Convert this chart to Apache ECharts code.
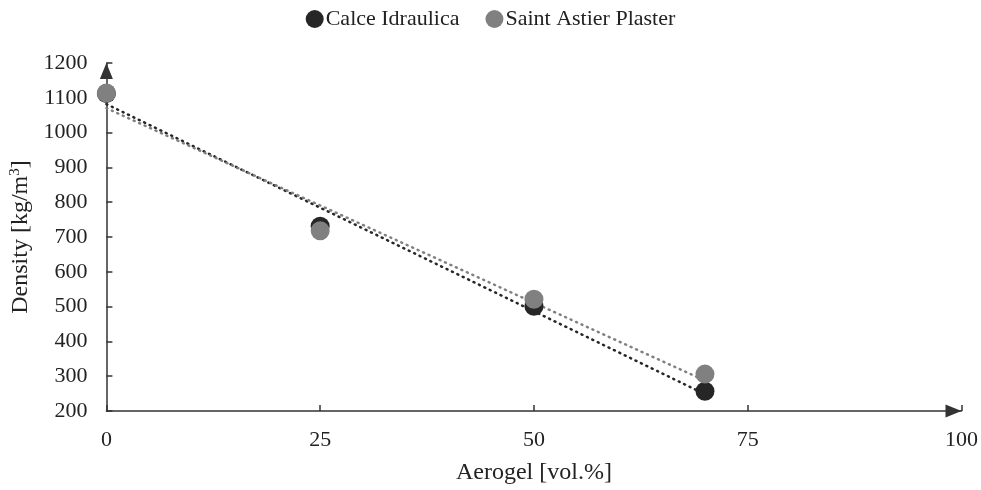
<!DOCTYPE html>
<html>
<head>
<meta charset="utf-8">
<script src="https://cdn.jsdelivr.net/npm/echarts@6/dist/echarts.min.js"></script>
<style>
  html, body { margin: 0; padding: 0; background: #fff; }
  #chart { width: 981px; height: 490px; }
</style>
</head>
<body>
<div id="chart"></div>
<script>
// Aerogel content (vol.%) and measured densities (kg/m3)
const aerogel = [0, 25, 50, 70];
const calceIdraulica = [1112, 731, 501, 257];
const saintAstier = [1114, 718, 521, 306];
const xTicks = [0, 25, 50, 75, 100];
const yTicks = [200, 300, 400, 500, 600, 700, 800, 900, 1000, 1100, 1200];

const DARK = '#262626';
const GREY = '#808080';
const TEXT = '#222222';
const AXIS = '#333333';
const FONT = '"Liberation Serif", "Times New Roman", serif';

// Least-squares linear trendline over the measured points
function trend(xs, ys) {
  const n = xs.length;
  const mx = xs.reduce((a, b) => a + b, 0) / n;
  const my = ys.reduce((a, b) => a + b, 0) / n;
  let sxy = 0, sxx = 0;
  for (let i = 0; i < n; i++) {
    sxy += (xs[i] - mx) * (ys[i] - my);
    sxx += (xs[i] - mx) * (xs[i] - mx);
  }
  const k = sxy / sxx;
  const b = my - k * mx;
  const x0 = xs[0], x1 = xs[n - 1];
  return [[x0, b + k * x0], [x1, b + k * x1]];
}

const pts = (ys) => aerogel.map((x, i) => [x, ys[i]]);

const chart = echarts.init(document.getElementById('chart'), null, { renderer: 'canvas' });

// Axis line ending in a solid triangular arrowhead whose tip sits on the axis end
const axisLine = {
  show: true,
  symbol: ['none', 'triangle'],
  symbolSize: [13, 16],
  symbolOffset: [0, -8],
  lineStyle: { color: AXIS, width: 1.5 }
};
const axisTick = { show: true, inside: true, length: 6, lineStyle: { color: AXIS, width: 1.5 } };

chart.setOption({
  animation: false,
  textStyle: { fontFamily: FONT },
  legend: {
    top: 3,
    left: 'center',
    itemGap: 26,
    itemWidth: 18,
    itemHeight: 18,
    data: [
      { name: 'Calce Idraulica', icon: 'circle' },
      { name: 'Saint Astier Plaster', icon: 'circle' }
    ],
    textStyle: { fontFamily: FONT, fontSize: 22, color: TEXT, padding: [0, 0, 0, -3] }
  },
  grid: { left: 106, right: 19, top: 63, bottom: 78, containLabel: false },
  xAxis: {
    type: 'value',
    min: xTicks[0],
    max: xTicks[xTicks.length - 1],
    interval: 25,
    name: 'Aerogel [vol.%]',
    nameLocation: 'middle',
    nameGap: 50,
    nameTextStyle: { fontFamily: FONT, fontSize: 24, color: TEXT },
    axisLine: axisLine,
    axisTick: axisTick,
    axisLabel: { fontFamily: FONT, fontSize: 22, color: TEXT, margin: 18 },
    splitLine: { show: false }
  },
  yAxis: {
    type: 'value',
    min: yTicks[0],
    max: yTicks[yTicks.length - 1],
    interval: 100,
    name: '{a|Density [kg/m}{s|3}{a|]}',
    nameLocation: 'middle',
    nameRotate: 90,
    nameGap: 73,
    nameTextStyle: {
      fontFamily: FONT,
      color: TEXT,
      rich: {
        a: { fontFamily: FONT, fontSize: 24, color: TEXT },
        s: { fontFamily: FONT, fontSize: 15, color: TEXT, verticalAlign: 'top', padding: [0, 0, 10, 0] }
      }
    },
    axisLine: axisLine,
    axisTick: axisTick,
    axisLabel: {
      fontFamily: FONT,
      fontSize: 22,
      color: TEXT,
      margin: 19,
      formatter: (v) => String(v)
    },
    splitLine: { show: false }
  },
  series: [
    {
      name: 'Calce Idraulica trend',
      type: 'line',
      data: trend(aerogel, calceIdraulica),
      showSymbol: false,
      lineStyle: { color: DARK, width: 2.5, type: [1, 5], cap: 'round' },
      silent: true,
      z: 1
    },
    {
      name: 'Saint Astier Plaster trend',
      type: 'line',
      data: trend(aerogel, saintAstier),
      showSymbol: false,
      lineStyle: { color: GREY, width: 2.5, type: [1, 5], cap: 'round' },
      silent: true,
      z: 1
    },
    {
      name: 'Calce Idraulica',
      type: 'scatter',
      data: pts(calceIdraulica),
      symbol: 'circle',
      symbolSize: 19,
      itemStyle: { color: DARK, opacity: 1 },
      z: 3
    },
    {
      name: 'Saint Astier Plaster',
      type: 'scatter',
      data: pts(saintAstier),
      symbol: 'circle',
      symbolSize: 19,
      itemStyle: { color: GREY, opacity: 1 },
      z: 4
    }
  ]
});
</script>
</body>
</html>
